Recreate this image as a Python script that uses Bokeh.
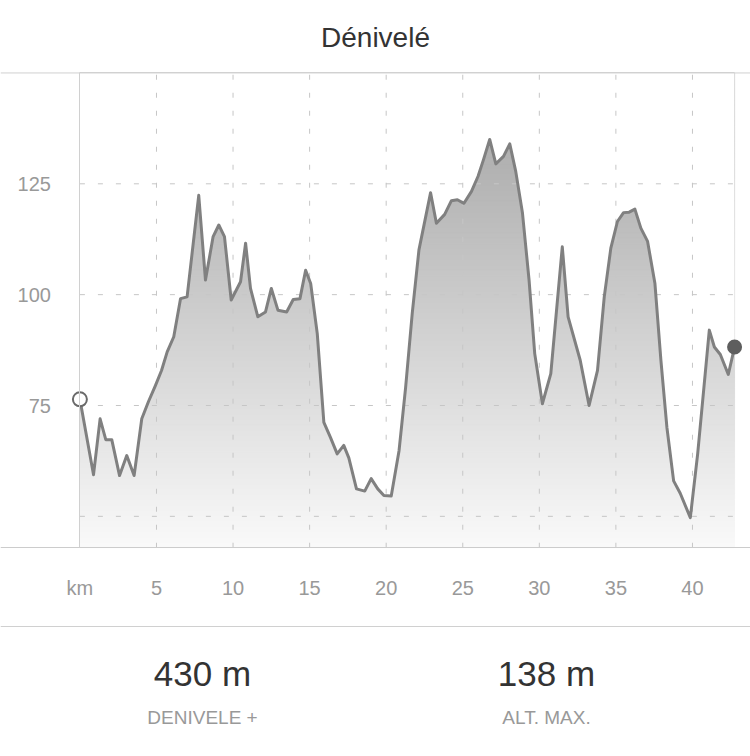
import numpy as np
from bokeh.plotting import figure
from bokeh.models import Range1d, LinearAxis, FixedTicker, Span
from bokeh.core.properties import value
from bokeh.embed import file_html
from bokeh.resources import INLINE

# ---------------- data ----------------
km = [0.00, 0.89, 1.32, 1.69, 2.08, 2.59, 3.06, 3.54, 4.04, 4.48, 4.93, 5.33, 5.70, 6.13,
      6.57, 7.00, 7.76, 8.20, 8.70, 9.07, 9.44, 9.88, 10.49, 10.82, 11.14, 11.62, 12.12,
      12.50, 12.93, 13.50, 13.93, 14.37, 14.74, 15.07, 15.50, 15.93, 16.36, 16.80, 17.23,
      17.56, 18.06, 18.60, 19.02, 19.45, 19.85, 20.33, 20.84, 21.27, 21.70, 22.14, 22.90,
      23.28, 23.82, 24.26, 24.65, 25.08, 25.57, 26.00, 26.35, 26.76, 27.16, 27.66, 28.07,
      28.46, 28.90, 29.33, 29.70, 30.20, 30.75, 31.50, 31.88, 32.67, 33.25, 33.80, 34.24,
      34.67, 35.10, 35.50, 35.87, 36.24, 36.63, 37.07, 37.55, 37.94, 38.33, 38.77, 39.20,
      39.86, 40.34, 41.10, 41.43, 41.82, 42.34, 42.75]
elevation = [76.4, 59.4, 72.0, 67.3, 67.3, 59.2, 63.7, 59.2, 72.0, 75.9, 79.5, 82.9, 87.1, 90.5,
             99.1, 99.5, 122.4, 103.3, 113.1, 115.7, 113.1, 98.8, 102.9, 111.6, 101.4, 95.0, 96.1,
             101.4, 96.5, 96.1, 98.9, 99.1, 105.5, 102.5, 91.2, 71.2, 67.8, 64.1, 66.0,
             63.2, 56.2, 55.7, 58.5, 56.2, 54.7, 54.6, 64.8, 79.1, 95.7, 110.1, 123.0,
             116.1, 118.1, 121.2, 121.4, 120.6, 123.3, 126.7, 130.4, 135.0, 129.5, 131.2, 134.0,
             127.8, 118.4, 103.3, 86.7, 75.4, 82.2, 110.8, 95.0, 85.2, 75.0, 82.9, 99.5,
             110.5, 116.5, 118.5, 118.6, 119.3, 115.0, 112.0, 102.5, 85.2, 70.1, 58.0, 55.2,
             49.7, 64.1, 92.0, 88.2, 86.5, 82.0, 88.2]

x_ticks = [0, 5, 10, 15, 20, 25, 30, 35, 40]
x_tick_labels = {0: "km"}
y_label_ticks = [75, 100, 125]
y_grid_ticks = [50, 75, 100, 125]
y_floor, y_top = 42.92, 150.0

title_text = "Dénivelé"
stat_values = ["430 m", "138 m"]
stat_names = ["DENIVELE +", "ALT. MAX."]

# ---------------- canvas geometry (pixels -> data) ----------------
W, H = 750, 756
X0_PX, PX_PER_KM = 79.4, 15.314
Y125_PX, PX_PER_M = 183.3, 4.434


def dx(px):
    return (px - X0_PX) / PX_PER_KM


def dy(py):
    return 125 - (py - Y125_PX) / PX_PER_M


FONT = "Liberation Sans"
DARK = "#333333"
GREY = "#999999"

p = figure(width=W, height=H, output_backend="svg", toolbar_location=None,
           x_range=Range1d(dx(0), dx(W)), y_range=Range1d(dy(H), dy(0)),
           x_axis_type=None, y_axis_type=None, min_border=0)
p.outline_line_color = None
p.xgrid.visible = False
p.ygrid.visible = False
p.background_fill_color = "white"
p.border_fill_color = "white"

# gradient fill: horizontal bands, then white mask above the profile
edges = np.linspace(y_floor, y_top, 90)
mid = (edges[:-1] + edges[1:]) / 2
t = np.clip((mid - y_floor) / (135 - y_floor), 0, 1)
g = (250 - 76 * t).astype(int)
cols = ["#%02x%02x%02x" % (v, v, v) for v in g]
p.quad(left=km[0], right=km[-1], bottom=edges[:-1], top=edges[1:],
       fill_color=cols, line_color=cols, line_width=1)
p.varea(x=km, y1=elevation, y2=y_top, fill_color="white")

# grid lines
grid_color = "#c6c6c6"
vx = [v for v in x_ticks if v != 0]
p.segment(x0=vx, x1=vx, y0=[y_floor] * len(vx), y1=[y_top] * len(vx),
          line_color=grid_color, line_width=1, line_dash="5 13")
p.segment(x0=[0] * len(y_grid_ticks), x1=[km[-1]] * len(y_grid_ticks),
          y0=y_grid_ticks, y1=y_grid_ticks,
          line_color=grid_color, line_width=1, line_dash="5 13")

# profile line and end markers
p.line(km, elevation, line_color="#808080", line_width=3, line_join="round")
p.scatter([km[0]], [elevation[0]], size=14, marker="circle", fill_color="white",
          line_color="#6a6a6a", line_width=2)
p.scatter([km[-1]], [elevation[-1]], size=15, marker="circle", fill_color="#5e5e5e",
          line_color=None)

# axes
xaxis = LinearAxis(fixed_location=y_floor, ticker=FixedTicker(ticks=x_ticks),
                   major_label_overrides=x_tick_labels)
xaxis.axis_line_color = "#cccccc"
xaxis.major_tick_line_color = None
xaxis.minor_tick_line_color = None
xaxis.major_label_standoff = 23
xaxis.major_label_text_font = FONT
xaxis.major_label_text_font_size = "20px"
xaxis.major_label_text_color = GREY
p.add_layout(xaxis, "below")

yaxis = LinearAxis(fixed_location=0, bounds=(y_floor, y_top),
                   ticker=FixedTicker(ticks=y_label_ticks))
yaxis.axis_line_color = "#d0d0d0"
yaxis.major_tick_line_color = None
yaxis.minor_tick_line_color = None
yaxis.major_label_standoff = 23
yaxis.major_label_text_font = FONT
yaxis.major_label_text_font_size = "20px"
yaxis.major_label_text_color = GREY
p.add_layout(yaxis, "left")

# horizontal rules
p.add_layout(Span(location=y_top, dimension="width", line_color="#d0d0d0", line_width=1))
p.add_layout(Span(location=dy(626), dimension="width", line_color="#d0d0d0", line_width=1))

# title and statistics
p.text(x=[dx(375)], y=[dy(37)], text=[title_text], text_font=value(FONT),
       text_font_size="28px", text_color=DARK, text_align="center",
       text_baseline="alphabetic")
p.text(x=[dx(202), dx(546)], y=[dy(673)] * 2, text=stat_values, text_font=value(FONT),
       text_font_size="35px", text_color=DARK, text_align="center",
       text_baseline="alphabetic")
p.text(x=[dx(202), dx(546)], y=[dy(717)] * 2, text=stat_names, text_font=value(FONT),
       text_font_size="19px", text_color=GREY, text_align="center",
       text_baseline="alphabetic")

open("out.html", "w").write(file_html(p, INLINE))
